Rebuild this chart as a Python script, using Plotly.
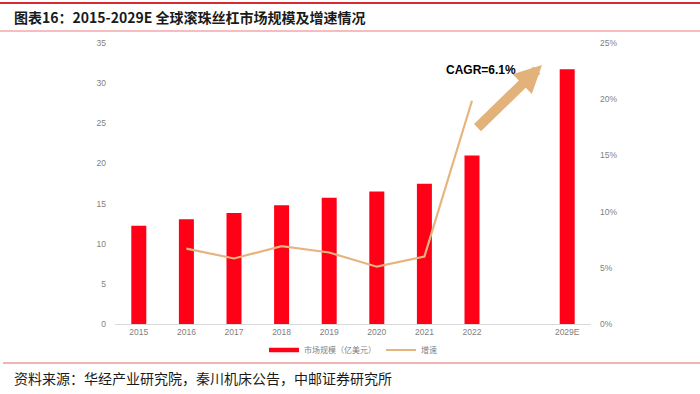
import plotly.graph_objects as go

categories = ["2015", "2016", "2017", "2018", "2019", "2020", "2021", "2022", " ", "2029E"]
market_size = [12.25, 13.05, 13.83, 14.78, 15.74, 16.49, 17.48, 21.0, None, 31.73]
growth = [None, 0.0671, 0.0583, 0.0693, 0.0636, 0.0510, 0.0600, 0.1986, None, None]
title_text = "图表16：2015-2029E 全球滚珠丝杠市场规模及增速情况"
source_text = "资料来源：华经产业研究院，秦川机床公告，中邮证券研究所"
cagr_text = "CAGR=6.1%"

W, H = 700, 394
L, R, T, B = 115, 591, 43, 324
pw, ph = R - L, B - T


def px(x):
    return (x - L) / pw


def py(y):
    return (B - y) / ph


BAR_COLOR = "#FF0016"
LINE_COLOR = "#E6B47F"

fig = go.Figure()
fig.add_trace(go.Bar(
    x=categories, y=market_size, name="市场规模（亿美元）", showlegend=False,
    marker=dict(color=BAR_COLOR, line=dict(width=0)), width=0.315,
))
# legend swatch for the bars (wide rectangle as in the reference)
fig.add_trace(go.Scatter(
    x=[None], y=[None], name="市场规模（亿美元）", mode="lines",
    line=dict(color=BAR_COLOR, width=4.5),
))
fig.add_trace(go.Scatter(
    x=categories, y=growth, name="增速", yaxis="y2", mode="lines",
    line=dict(color=LINE_COLOR, width=2.2), connectgaps=False,
))

tickfont = dict(family="Liberation Sans, Arial, sans-serif", size=8.5, color="#7F7F7F")

fig.update_layout(
    width=W, height=H,
    margin=dict(l=L, r=W - R, t=T, b=H - B, autoexpand=False),
    paper_bgcolor="white", plot_bgcolor="white",
    showlegend=True,
    legend=dict(orientation="h", x=0.5, xanchor="center", y=py(350), yanchor="middle",
                font=dict(family="Noto Sans CJK SC", size=8, color="#7F7F7F"),
                itemwidth=30, tracegroupgap=0, bgcolor="rgba(0,0,0,0)"),
    xaxis=dict(type="category", categoryorder="array", categoryarray=categories,
               showline=True, linecolor="#D9D9D9", linewidth=1, ticks="",
               tickfont=tickfont, showgrid=False, zeroline=False),
    yaxis=dict(range=[0, 35], dtick=5, showgrid=False, zeroline=False, showline=False,
               tickfont=tickfont, ticks="", ticklabelstandoff=8),
    yaxis2=dict(range=[0, 0.25], dtick=0.05, tickformat=".0%", overlaying="y", side="right",
                showgrid=False, zeroline=False, showline=False, tickfont=tickfont, ticks="",
                ticklabelstandoff=8),
    bargap=0.5,
)

# Decorative rules
rules = [
    dict(y=3, x0=0, color="#D42C35", w=2.2),
    dict(y=31, x0=0, color="#F2A7A7", w=1.5),
    dict(y=363, x0=3, color="#EA9A9A", w=1.5),
]
for s in rules:
    fig.add_shape(type="line", xref="paper", yref="paper",
                  x0=px(s["x0"]), x1=px(W), y0=py(s["y"]), y1=py(s["y"]),
                  line=dict(color=s["color"], width=s["w"]))

fig.add_annotation(xref="paper", yref="paper", x=px(12), y=py(17), xanchor="left", yanchor="middle",
                   text="<b>" + title_text + "</b>", showarrow=False,
                   font=dict(family="Noto Sans CJK SC", size=14, color="#1A1A1A"))
fig.add_annotation(xref="paper", yref="paper", x=px(12), y=py(378), xanchor="left", yanchor="middle",
                   text=source_text, showarrow=False,
                   font=dict(family="Noto Sans CJK SC", size=14, color="#1A1A1A"))
fig.add_annotation(xref="paper", yref="paper", x=px(481), y=py(70), xanchor="center", yanchor="middle",
                   text="<b>" + cagr_text + "</b>", showarrow=False,
                   font=dict(family="Liberation Sans, Arial, sans-serif", size=12, color="#000000"))
fig.add_annotation(xref="paper", yref="paper", x=px(542), y=py(65), text="", showarrow=True,
                   ax=-66, ay=64, arrowhead=2, arrowsize=0.55, arrowwidth=10, arrowcolor="#E2B27A",
                   standoff=0)

fig.write_html(
    "out.html",
    config={"displayModeBar": False},
    post_script="document.body.style.margin='0';document.body.style.overflow='hidden';",
)
